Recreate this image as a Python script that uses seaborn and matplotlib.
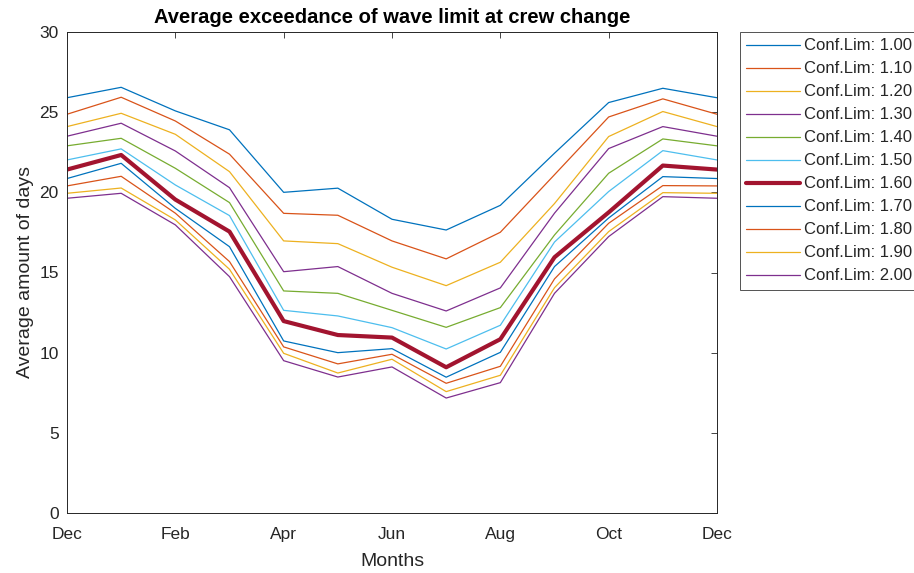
import numpy as np
import pandas as pd
import matplotlib
matplotlib.use("Agg")
import matplotlib.pyplot as plt
import seaborn as sns

# month positions Dec .. Dec (13 points)
months = ["Dec", "Jan", "Feb", "Mar", "Apr", "May", "Jun", "Jul", "Aug", "Sep", "Oct", "Nov", "Dec"]
tick_labels = ["Dec", "Feb", "Apr", "Jun", "Aug", "Oct", "Dec"]
conf_lims = ["1.00", "1.10", "1.20", "1.30", "1.40", "1.50", "1.60", "1.70", "1.80", "1.90", "2.00"]

cl_100 = [25.9, 26.55, 25.08, 23.9, 20.0, 20.26, 18.32, 17.65, 19.19, 22.44, 25.6, 26.49, 25.9]
cl_110 = [24.87, 25.93, 24.45, 22.38, 18.69, 18.57, 16.97, 15.85, 17.51, 21.1, 24.7, 25.83, 24.87]
cl_120 = [24.1, 24.93, 23.62, 21.29, 16.97, 16.8, 15.33, 14.18, 15.64, 19.3, 23.48, 25.04, 24.1]
cl_130 = [23.5, 24.31, 22.58, 20.29, 15.05, 15.37, 13.7, 12.6, 14.04, 18.7, 22.73, 24.1, 23.5]
cl_140 = [22.9, 23.37, 21.5, 19.36, 13.85, 13.7, 12.64, 11.58, 12.81, 17.34, 21.19, 23.33, 22.9]
cl_150 = [22.02, 22.71, 20.46, 18.55, 12.64, 12.29, 11.56, 10.23, 11.71, 16.9, 20.05, 22.6, 22.02]
cl_160 = [21.42, 22.33, 19.55, 17.55, 11.97, 11.1, 10.94, 9.09, 10.84, 15.95, 18.75, 21.67, 21.42]
cl_170 = [20.86, 21.81, 19.0, 16.61, 10.73, 10.0, 10.25, 8.47, 10.02, 15.37, 18.4, 20.98, 20.86]
cl_180 = [20.4, 21.0, 18.7, 15.68, 10.36, 9.3, 9.9, 8.09, 9.15, 14.6, 18.07, 20.42, 20.4]
cl_190 = [19.94, 20.27, 18.28, 15.2, 9.96, 8.73, 9.59, 7.57, 8.59, 14.05, 17.55, 19.98, 19.94]
cl_200 = [19.63, 19.94, 17.97, 14.74, 9.5, 8.48, 9.11, 7.17, 8.13, 13.7, 17.24, 19.73, 19.63]

series = [cl_100, cl_110, cl_120, cl_130, cl_140, cl_150, cl_160, cl_170, cl_180, cl_190, cl_200]

# matlab default colour order
colors = ["#0072BD", "#D95319", "#EDB120", "#7E2F8E", "#77AC30", "#4DBEEE", "#A2142F",
          "#0072BD", "#D95319", "#EDB120", "#7E2F8E"]

sns.set_style("white")
plt.rcParams["font.family"] = ["Liberation Sans", "DejaVu Sans"]

fig = plt.figure(figsize=(9.14, 5.73), dpi=100)
ax = fig.add_axes([67 / 914, 60 / 573, 650 / 914, 481 / 573])

x = np.arange(len(months))
for i, (lim, vals) in enumerate(zip(conf_lims, series)):
    lw = 3.0 if lim == "1.60" else 0.9
    sns.lineplot(x=x, y=vals, ax=ax, color=colors[i], lw=lw, label="Conf.Lim: " + lim)

ax.set_xlim(0, 12)
ax.set_ylim(0, 30)
ax.set_xticks(np.arange(0, 13, 2))
ax.set_xticklabels(tick_labels)
ax.set_yticks(np.arange(0, 31, 5))
ax.tick_params(direction="in", length=4, width=0.6, colors="#262626", labelsize=12.5,
               top=True, right=True)
ax.tick_params(axis="x", pad=10)
ax.tick_params(axis="y", pad=6)
for s in ax.spines.values():
    s.set_color("#262626")
    s.set_linewidth(0.7)

ax.set_xlabel("Months", fontsize=14, color="#262626", labelpad=8)
ax.set_ylabel("Average amount of days", fontsize=14, color="#262626", labelpad=4)
ax.set_title("Average exceedance of wave limit at crew change", fontsize=14.5,
             fontweight="bold", color="black", pad=6.5)

leg = ax.legend(loc="upper left", bbox_to_anchor=(740 / 914, 541 / 573),
                bbox_transform=fig.transFigure, fontsize=12, frameon=True, fancybox=False,
                edgecolor="#262626", handlelength=3.2, handletextpad=0.25, labelspacing=0.48,
                borderpad=0.38, borderaxespad=0)
leg.get_frame().set_linewidth(0.7)

fig.savefig("out.png", dpi=100)
